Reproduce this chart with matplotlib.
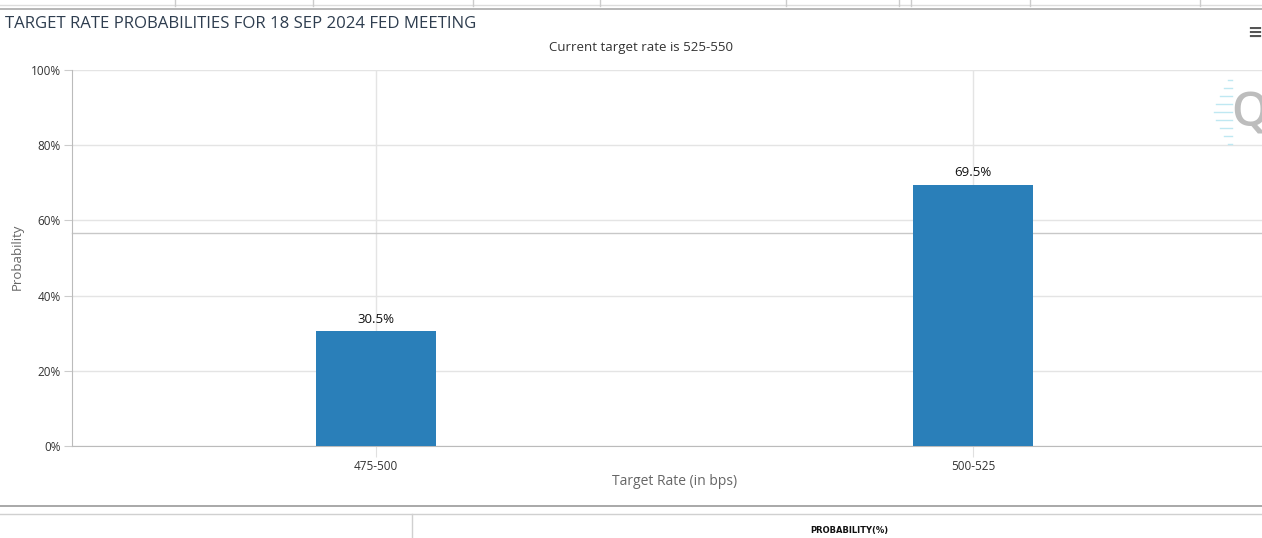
import matplotlib.pyplot as plt
from matplotlib.lines import Line2D

# data
rates = ['475-500', '500-525']
probs = [30.5, 69.5]
yticks = [0, 20, 40, 60, 80, 100]

plt.rcParams['font.family'] = ['Open Sans', 'DejaVu Sans']

W, H = 1262, 538
fig = plt.figure(figsize=(W / 100, H / 100), dpi=100)
fig.patch.set_facecolor('white')

def px(x, y):
    return x / W, 1 - y / H

# axes area in pixels: x 72..1272, y 70..446
x0, y0 = px(72, 446)
x1, y1 = px(1272, 70)
ax = fig.add_axes([x0, y0, x1 - x0, y1 - y0])

# stray horizontal line behind the bars
ax.plot([0, 1], [0.5665, 0.5665], transform=ax.transAxes, color='#c8c8c8',
        lw=1, zorder=2, clip_on=False)

pos = range(len(rates))
bars = ax.bar(pos, probs, width=0.2, color='#2a7fb9', zorder=3)
for b, v in zip(bars, probs):
    ax.annotate(f'{v}%', (b.get_x() + b.get_width() / 2, v), xytext=(0, 4),
                textcoords='offset points', ha='center', va='bottom',
                fontsize=9.5, color='#111111')

ax.set_xlim(-0.509, 1.501)
ax.set_ylim(0, 100)
ax.set_xticks(list(pos))
ax.set_xticklabels(rates)
ax.set_yticks(yticks)
ax.set_yticklabels([f'{t}%' for t in yticks])
ax.tick_params(axis='both', labelsize=8.5, colors='#333333')
ax.tick_params(axis='y', length=6, color='#cccccc', pad=2)
ax.tick_params(axis='x', length=8, color='#e0e0e0', pad=2)
ax.grid(True, color='#e4e4e4', lw=1, zorder=0)
for s in ['top', 'right']:
    ax.spines[s].set_visible(False)
ax.spines['left'].set_color('#bbbbbb')
ax.spines['bottom'].set_color('#bbbbbb')
ax.set_ylabel('Probability', fontsize=9.5, color='#666666')
ax.yaxis.set_label_coords(-(72 - 24) / 1200, (446 - 257) / 376)
ax.set_xlabel('Target Rate (in bps)', fontsize=10, color='#666666')
ax.xaxis.set_label_coords((675 - 72) / 1200, -(474 - 446) / 376)

# titles
fig.text(5 / W, 1 - 24 / H, 'TARGET RATE PROBABILITIES FOR 18 SEP 2024 FED MEETING',
         fontsize=12.1, color='#2e3d4f', va='center', ha='left')
fig.text(641 / W, 1 - 48 / H, 'Current target rate is 525-550',
         fontsize=9.5, color='#333333', ha='center', va='center')

# menu icon and logo watermark
fig.text(1262 / W, 1 - 33 / H, '≡', fontsize=13, color='#555555', ha='right',
         va='center', fontweight='bold')
fig.text(1231 / W, 1 - 114 / H, 'Q', fontsize=34, color='#bdbdbd', ha='left',
         va='center', fontweight='semibold')
for ya, ln in [(80, 4), (88, 8), (96, 12), (104, 16), (112, 18),
               (120, 16), (128, 12), (136, 8), (144, 4)]:
    fig.add_artist(Line2D([(1232 - ln) / W, 1232 / W], [1 - ya / H] * 2,
                          color='#bfe8f2', lw=1))

# top tab strip
fig.add_artist(Line2D([0, 1], [1 - 5 / H] * 2, color='#dddddd', lw=1))
fig.add_artist(Line2D([0, 1], [1 - 9 / H] * 2, color='#aaaaaa', lw=1.2))
for xv in [175, 313, 473, 600, 786, 899, 911, 1030, 1200]:
    fig.add_artist(Line2D([xv / W] * 2, [1, 1 - 6 / H], color='#cccccc', lw=1))

# bottom table header
fig.add_artist(Line2D([0, 1], [1 - 506 / H] * 2, color='#999999', lw=1.2))
fig.add_artist(Line2D([0, 1], [1 - 514 / H] * 2, color='#d0d0d0', lw=1))
fig.add_artist(Line2D([412 / W] * 2, [1 - 514 / H, 0], color='#d0d0d0', lw=1))
fig.text(849 / W, 1 - 530 / H, 'PROBABILITY(%)', fontsize=6, color='#111111',
         ha='center', va='center', fontweight='bold', family='Liberation Sans Narrow')

fig.savefig('out.png', dpi=100)
